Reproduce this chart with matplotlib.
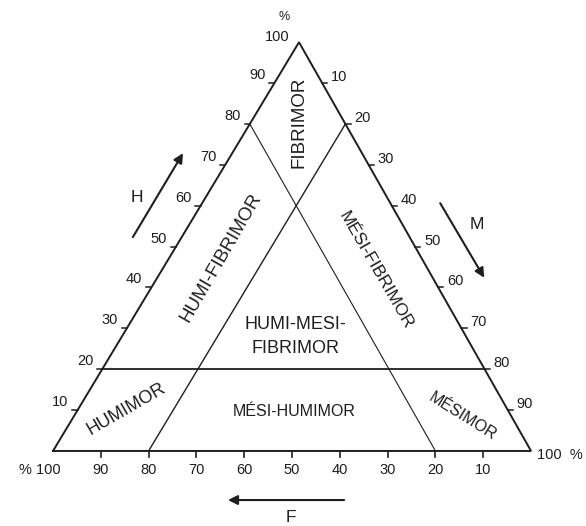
import matplotlib
matplotlib.use("Agg")
import matplotlib.pyplot as plt
import numpy as np
from matplotlib.patches import FancyArrowPatch

plt.rcParams['font.family'] = ['Liberation Sans', 'DejaVu Sans']

# ---------------- data ----------------
tick_values = [10, 20, 30, 40, 50, 60, 70, 80, 90]
H_boundary = 20      # humic limit (horizontal line)
F_boundary = 20      # fibric limit
M_boundary = 20      # mesic limit

region_names = ["FIBRIMOR", "HUMI-FIBRIMOR", "MÉSI-FIBRIMOR",
                "HUMI-MESI-\nFIBRIMOR", "HUMIMOR", "MÉSI-HUMIMOR", "MÉSIMOR"]
region_H = [80.3, 47.2, 44.2, 27.9, 10.3, 9.6, 8.5]
region_M = [10.2, 10.8, 44.8, 36.4, 10.0, 45.6, 81.3]
region_angle = [90, 60, -60, 0, 30, 0, -32]
region_size = [13.5, 13.5, 12.5, 13, 13, 11.5, 11.5]

INK = '#1e1e1e'
S3 = np.sqrt(3) / 2
SKEW = 0.0146   # the scanned triangle leans slightly to the right


def tern(H, M):
    """ternary (H, M, F=100-H-M) -> cartesian"""
    H = np.asarray(H, float)
    M = np.asarray(M, float)
    return M + H * (0.5 + SKEW), H * S3


fig = plt.figure(figsize=(5.86, 5.26), dpi=100)
ax = fig.add_axes([0, 0, 1, 1])
ax.set_xlim(-11.09, 111.5)
ax.set_ylim(-15.9, 95.55)
ax.axis('off')

# outer triangle
tx, ty = tern([0, 0, 100, 0], [0, 100, 0, 0])
ax.plot(tx, ty, color=INK, lw=1.4, solid_joinstyle='miter')

# H = 20 line
x, y = tern([H_boundary, H_boundary], [0, 100 - H_boundary])
ax.plot(x, y, color=INK, lw=1.3)
# F = 20 line (from left edge H=80 to base M=80)
x, y = tern([100 - F_boundary, 0], [0, 100 - F_boundary])
ax.plot(x, y, color=INK, lw=0.8)
# M = 20 line
x, y = tern([100 - M_boundary, 0], [M_boundary, M_boundary])
ax.plot(x, y, color=INK, lw=1.0)

# ticks and labels
tv = np.array(tick_values)
# left edge (H)
lx, ly = tern(tv, np.zeros_like(tv))
for v, xx, yy in zip(tick_values, lx, ly):
    ax.plot([xx - 1.1, xx], [yy, yy], color=INK, lw=1.1)
    ax.annotate(str(v), (xx, yy), xytext=(-9, 8), textcoords='offset pixels',
                ha='right', va='center', fontsize=10.5, color=INK)
# right edge (M)
rx, ry = tern(100 - tv, tv)
for v, xx, yy in zip(tick_values, rx, ry):
    ax.plot([xx, xx + 1.1], [yy, yy], color=INK, lw=1.1)
    ax.annotate(str(v), (xx, yy), xytext=(9, 6), textcoords='offset pixels',
                ha='left', va='center', fontsize=10.5, color=INK)
# bottom edge (F)
bx, by = tern(np.zeros_like(tv), 100 - tv)
for v, xx, yy in zip(tick_values, bx, by):
    ax.plot([xx, xx], [yy, yy - 1.3], color=INK, lw=1.2)
    ax.annotate(str(v), (xx, yy), xytext=(0, -19), textcoords='offset pixels',
                ha='center', va='center', fontsize=10.5, color=INK)

# corner labels
ax_, ay_ = tern(100, 0)
ax.annotate("100", (ax_, ay_), xytext=(-9, 5), textcoords='offset pixels',
            ha='right', va='center', fontsize=10.5, color=INK)
ax.annotate("%", (ax_, ay_), xytext=(-15, 25), textcoords='offset pixels',
            ha='center', va='center', fontsize=9, color=INK)
lx0, ly0 = tern(0, 0)
ax.annotate("% 100", (lx0, ly0), xytext=(8, -19), textcoords='offset pixels',
            ha='right', va='center', fontsize=10.5, color=INK)
rx0, ry0 = tern(0, 100)
ax.annotate("100  %", (rx0, ry0), xytext=(6, -4), textcoords='offset pixels',
            ha='left', va='center', fontsize=10.5, color=INK)

# region labels
for name, h, m, ang, fs in zip(region_names, region_H, region_M,
                               region_angle, region_size):
    x, y = tern(h, m)
    ax.text(x, y, name, rotation=ang, rotation_mode='anchor',
            ha='center', va='center', fontsize=fs, color=INK,
            linespacing=1.55, multialignment='center')


def arrow(p0, p1):
    a = FancyArrowPatch(p0, p1, arrowstyle='-|>', mutation_scale=14,
                        color=INK, lw=1.5, shrinkA=0, shrinkB=0)
    ax.add_patch(a)


arrow((16.7, 45.3), (27.2, 63.1))
ax.text(17.6, 53.6, "H", fontsize=12.5, ha='center', va='center', color=INK)
arrow((81.0, 52.5), (90.2, 36.7))
ax.text(88.7, 47.9, "M", fontsize=12.5, ha='center', va='center', color=INK)
arrow((60.9, -10.4), (36.6, -10.4))
ax.text(49.8, -14.2, "F", fontsize=12.5, ha='center', va='center', color=INK)

fig.savefig("out.png", dpi=100, facecolor='white')
